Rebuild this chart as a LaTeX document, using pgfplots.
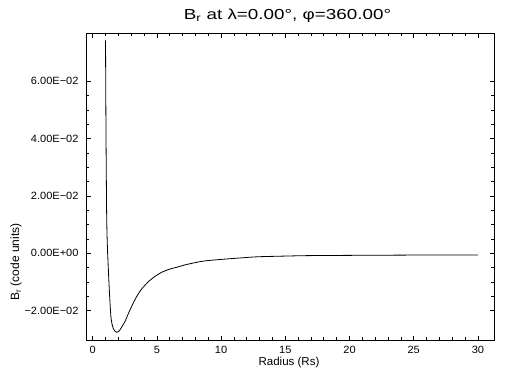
\documentclass[border=0pt]{standalone}
\usepackage{pgfplots}
\pgfplotsset{compat=1.18}
\usepackage{fontspec}
\setmainfont{Liberation Sans}
\newfontfamily\titlefont[FakeStretch=1.3]{Liberation Sans}
\newfontfamily\tickfont[FakeStretch=1.05]{Liberation Sans}
\begin{document}
\begin{tikzpicture}[x=1pt,y=1pt]
\path[fill=white] (0,0) rectangle (512,384);
\begin{axis}[
  at={(86pt,44pt)}, anchor=south west,
  width=408pt, height=307pt, scale only axis,
  xmin=-0.52, xmax=31.25, ymin=-0.0302, ymax=0.0768,
  xtick={0,5,...,30}, minor x tick num=4,
  ytick={-0.02,0,0.02,0.04,0.06},
  yticklabels={−2.00E−02,0.00E+00,2.00E−02,4.00E−02,6.00E−02},
  minor y tick num=3,
  tick align=inside,
  major tick length=4.5pt, minor tick length=3pt,
  axis line style={line width=0.9pt},
  every tick/.style={black, line width=0.7pt},
  /pgf/number format/assume math mode=true,
  ticklabel style={font=\tickfont\fontsize{10.5}{12}\selectfont},
  xticklabel style={yshift=-3pt},
  yticklabel style={xshift=-4pt},
  scaled y ticks=false,
]
\addplot[black, line width=0.8pt, smooth, tension=0.4] table {
x y
1.00 0.0742
1.02 0.0560
1.04 0.0400
1.06 0.0280
1.08 0.0170
1.10 0.0100
1.13 0.0045
1.17 -0.0005
1.22 -0.0055
1.27 -0.0105
1.34 -0.0165
1.42 -0.0221
1.50 -0.0245
1.60 -0.0261
1.73 -0.0271
1.86 -0.0275
2.00 -0.0273
2.12 -0.0267
2.30 -0.0254
2.51 -0.0238
2.70 -0.0218
2.90 -0.0198
3.15 -0.0174
3.42 -0.0151
3.80 -0.0125
4.33 -0.0099
4.80 -0.0082
5.37 -0.0066
6.00 -0.0055
6.66 -0.0047
7.20 -0.0040
7.70 -0.0035
8.35 -0.0029
9.00 -0.0025
10.3 -0.0020
11.5 -0.0016
12.8 -0.0012
14.5 -0.0010
16.6 -0.0008
20.0 -0.0007
25.0 -0.0006
30.0 -0.0006
};
\end{axis}
\node[font=\titlefont\fontsize{14.5}{16}\selectfont] at (287.5,368) {B\textsubscript{r} at λ=0.00°, φ=360.00°};
\node[font=\fontsize{11.5}{13}\selectfont] at (289,21) {Radius (Rs)};
\node[font=\fontsize{12}{13}\selectfont, rotate=90] at (16,122) {B\textsubscript{r} (code units)};
\end{tikzpicture}
\end{document}
